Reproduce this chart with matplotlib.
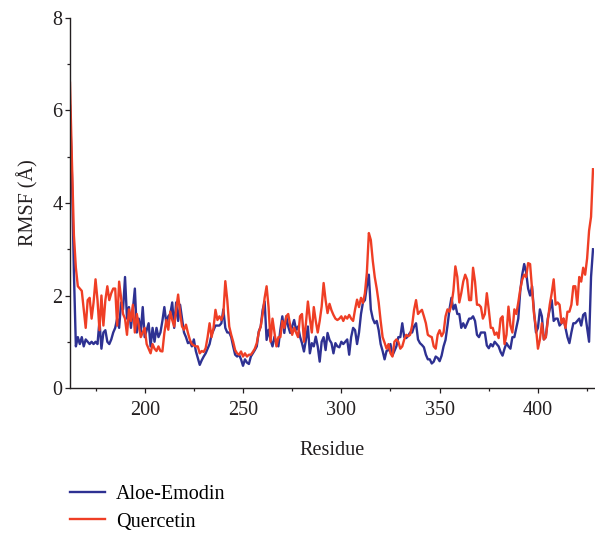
import matplotlib
matplotlib.use("Agg")
import matplotlib.pyplot as plt
from matplotlib.ticker import MultipleLocator

plt.rcParams['font.family'] = ['Liberation Serif', 'DejaVu Serif']

residue_start = 162
aloe_emodin = [
    6.1, 4.6, 2.5, 0.9, 1.1, 0.95, 1.1, 0.9, 1.05, 1.0,
    0.95, 1.0, 0.95, 1.0, 0.95, 1.45, 0.85, 1.2, 1.25, 1.0,
    0.95, 1.05, 1.2, 1.3, 1.5, 1.3, 1.85, 1.7, 2.4, 1.5,
    1.75, 1.3, 1.7, 2.15, 1.2, 1.5, 1.2, 1.75, 1.1, 1.25,
    1.4, 0.9, 1.3, 1.0, 1.3, 1.1, 1.2, 1.45, 1.75, 1.4,
    1.55, 1.6, 1.85, 1.3, 1.85, 1.45, 1.8, 1.5, 1.2, 1.1,
    0.97, 1.0, 0.9, 1.05, 0.8, 0.65, 0.5, 0.6, 0.68, 0.75,
    0.85, 0.95, 1.15, 1.25, 1.35, 1.35, 1.35, 1.4, 1.7, 1.3,
    1.2, 1.2, 1.1, 0.9, 0.72, 0.68, 0.72, 0.62, 0.48, 0.62,
    0.55, 0.52, 0.68, 0.75, 0.82, 0.9, 1.22, 1.33, 1.69, 1.87,
    1.04, 1.26, 1.04, 0.9, 1.11, 0.97, 0.9, 1.26, 1.55, 1.19,
    1.55, 1.33, 1.19, 1.33, 1.47, 1.26, 1.33, 1.11, 0.97, 0.79,
    1.04, 1.33, 0.75, 0.97, 0.9, 1.11, 0.9, 0.57, 1.0, 1.1,
    0.82, 1.19, 1.04, 0.97, 0.75, 0.97, 0.9, 0.88, 1.0, 0.95,
    1.0, 1.05, 0.72, 1.1, 1.3, 1.25, 0.95, 1.2, 1.6, 1.85,
    1.9, 2.2, 2.45, 1.7, 1.5, 1.4, 1.45, 1.25, 0.95, 0.8,
    0.62, 0.8, 0.82, 0.95, 0.7, 0.8, 0.9, 1.1, 1.1, 1.4,
    1.1, 1.08, 1.13, 1.2, 1.2, 1.33, 1.4, 1.05, 0.97, 0.93,
    0.88, 0.72, 0.62, 0.62, 0.53, 0.57, 0.68, 0.65, 0.58, 0.7,
    0.9, 1.04, 1.35, 1.7, 1.95, 1.7, 1.8, 1.6, 1.6, 1.3,
    1.4, 1.3, 1.4, 1.5, 1.5, 1.55, 1.45, 1.15, 1.1, 1.2,
    1.2, 1.2, 0.92, 0.86, 0.95, 0.9, 1.0, 0.95, 0.9, 0.78,
    0.7, 0.85, 0.97, 0.9, 0.85, 1.1, 1.1, 1.3, 1.5, 2.1,
    2.45, 2.68, 2.5, 2.15, 2.0, 2.2, 1.65, 1.2, 1.3, 1.7,
    1.55, 1.05, 1.1, 1.5, 1.7, 1.9, 1.45, 1.5, 1.5, 1.35,
    1.4, 1.5, 1.3, 1.1, 0.97, 1.2, 1.4, 1.4, 1.45, 1.5,
    1.35, 1.58, 1.62, 1.3, 1.0, 2.4, 3.0,
]
quercetin = [
    6.6, 4.9, 3.3, 2.6, 2.2, 2.15, 2.1, 1.7, 1.3, 1.9,
    1.95, 1.5, 1.85, 2.35, 1.9, 1.25, 2.0, 1.35, 1.9, 2.2,
    1.9, 2.05, 2.15, 2.15, 1.35, 2.3, 1.95, 1.6, 1.5, 1.15,
    1.7, 1.45, 1.8, 1.2, 1.6, 1.35, 1.1, 1.2, 1.3, 0.95,
    0.85, 0.75, 0.95, 0.85, 0.8, 0.9, 0.8, 0.79, 1.19, 1.47,
    1.26, 1.65, 1.47, 1.33, 1.7, 2.02, 1.62, 1.33, 1.26, 1.37,
    1.19, 1.04, 0.95, 0.92, 0.9, 0.9, 0.75, 0.8, 0.78, 0.86,
    1.1, 1.4, 1.1, 1.3, 1.69, 1.47, 1.55, 1.47, 1.6, 2.31,
    1.9, 1.33, 1.15, 1.0, 0.82, 0.75, 0.72, 0.79, 0.68, 0.75,
    0.68, 0.72, 0.72, 0.78, 0.85, 0.97, 1.2, 1.33, 1.6, 1.95,
    2.2, 1.75, 1.0, 1.5, 1.2, 0.9, 1.1, 1.1, 1.45, 1.3,
    1.55, 1.6, 1.35, 1.15, 1.3, 1.2, 1.1, 1.55, 1.6, 1.0,
    1.4, 1.87, 1.5, 1.2, 1.75, 1.45, 1.2, 1.45, 1.76, 2.27,
    1.9, 1.62, 1.82, 1.68, 1.58, 1.5, 1.47, 1.5, 1.55, 1.45,
    1.55, 1.5, 1.58, 1.5, 1.45, 1.7, 1.91, 1.75, 1.95, 1.84,
    2.05, 2.5, 3.35, 3.2, 2.75, 2.4, 2.15, 1.85, 1.45, 1.1,
    0.98, 0.85, 0.95, 0.75, 0.68, 1.0, 1.05, 1.0, 0.85, 0.9,
    1.05, 1.15, 1.12, 1.15, 1.35, 1.69, 1.9, 1.6, 1.65, 1.69,
    1.55, 1.4, 1.15, 1.12, 1.1, 0.9, 0.85, 1.15, 1.25, 1.12,
    1.2, 1.55, 1.7, 1.65, 1.8, 2.1, 2.63, 2.4, 1.85, 2.05,
    2.3, 2.45, 2.34, 1.9, 1.9, 2.6, 2.3, 1.8, 1.8, 1.75,
    1.5, 1.6, 2.05, 1.69, 1.3, 1.3, 1.15, 1.2, 1.08, 1.5,
    1.55, 0.95, 1.15, 1.76, 1.35, 1.2, 1.7, 1.6, 1.85, 2.13,
    2.34, 2.45, 2.4, 2.7, 2.68, 2.13, 1.6, 1.3, 0.85, 1.05,
    1.4, 1.05, 1.1, 1.45, 1.8, 2.05, 2.35, 1.8, 1.85, 1.8,
    1.4, 1.5, 1.3, 1.65, 1.65, 1.8, 2.2, 2.2, 1.8, 2.4,
    2.3, 2.6, 2.45, 2.8, 3.4, 3.7, 4.73,
]
residues = list(range(residue_start, residue_start + len(aloe_emodin)))
residues_q = list(range(residue_start, residue_start + len(quercetin)))

series_labels = ["Aloe-Emodin", "Quercetin"]
series_colors = ["#2e3192", "#ef3e25"]
x_label = "Residue"
y_label = "RMSF (Å)"

FS = 14.5
fig = plt.figure(figsize=(5.95, 5.34), dpi=100)
ax = fig.add_axes([0.1176, 0.2734, 0.8807, 0.6929])

l1, = ax.plot(residues, aloe_emodin, color=series_colors[0], lw=1.7, label=series_labels[0])
l2, = ax.plot(residues_q, quercetin, color=series_colors[1], lw=1.7, label=series_labels[1])

ax.set_xlim(162, 428.5)
ax.set_ylim(0, 8)
ax.xaxis.set_major_locator(MultipleLocator(50))
ax.xaxis.set_minor_locator(MultipleLocator(25))
ax.yaxis.set_major_locator(MultipleLocator(2))
ax.yaxis.set_minor_locator(MultipleLocator(1))
for s in ["top", "right"]:
    ax.spines[s].set_visible(False)
for s in ["left", "bottom"]:
    ax.spines[s].set_color("#231f20")
    ax.spines[s].set_linewidth(1.0)
ax.tick_params(which="major", length=3.5, width=0.9, color="#231f20", labelsize=FS, labelcolor="#231f20")
ax.tick_params(which="minor", length=2.5, width=0.9, color="#231f20")
ax.tick_params(axis="x", pad=6)
ax.tick_params(axis="y", pad=2)

ax.set_xlabel(x_label, fontsize=FS, color="#231f20", labelpad=15)
ax.set_ylabel(y_label, fontsize=FS, color="#231f20", labelpad=10)

fig.legend(handles=[l1, l2], loc="upper left", bbox_to_anchor=(0.1176, 0.092),
           frameon=False, fontsize=FS, handlelength=1.75, handletextpad=0.55,
           labelspacing=0.42, borderpad=0, borderaxespad=0)

fig.savefig("out.png", dpi=100)
